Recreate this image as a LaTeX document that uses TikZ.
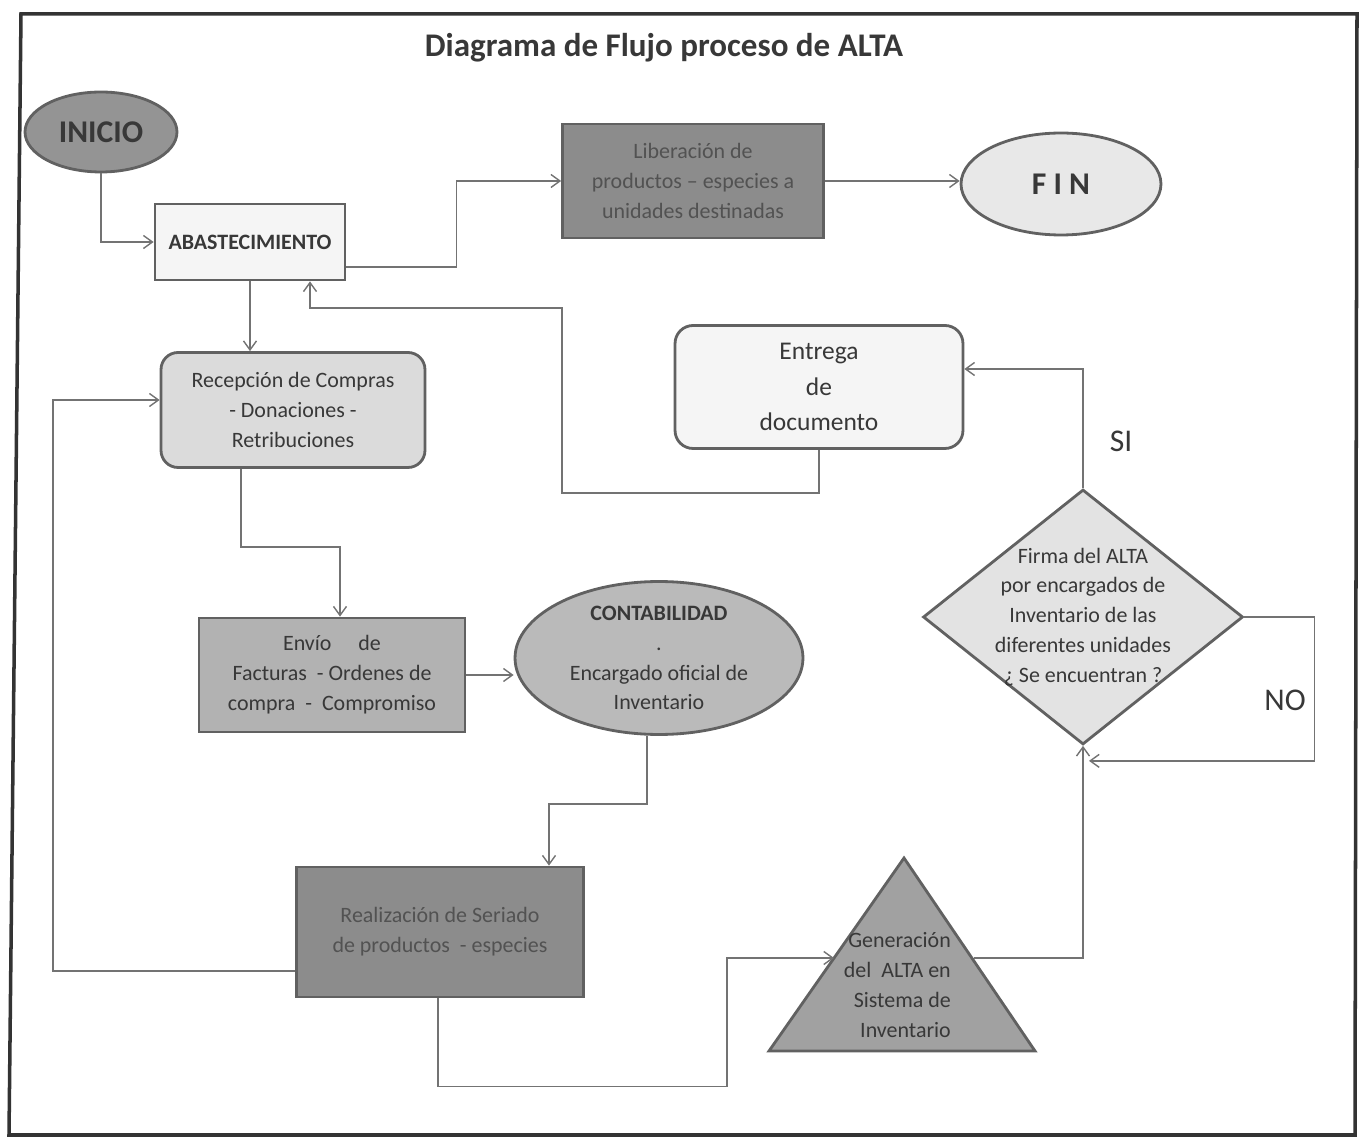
\documentclass[tikz,border=0pt]{standalone}
\usepackage{fontspec}
\setmainfont{Carlito}
\usetikzlibrary{shapes.geometric,arrows.meta,calc}
\newcommand\fnormal{\fontsize{12.5}{17}\selectfont}
\newcommand\fgrande{\fontsize{18}{21}\selectfont}
\newcommand\ftitulo{\fontsize{18.8}{22}\selectfont}
\newcommand\fentrega{\fontsize{14.5}{20}\selectfont}
\begin{document}
\begin{tikzpicture}[x=0.02cm,y=-0.02cm,
		conn/.style={draw=black!55,line width=0.8pt,-{Straight Barb[length=1.8mm,width=2.6mm]}},
		caja/.style={draw=black!62,line width=1.6pt,inner sep=0pt,align=center,font=\fnormal,text=black!78},
		elip/.style={caja,ellipse},
		redonda/.style={caja,rounded corners=0.34cm},
		etiqueta/.style={font=\fgrande,text=black!78}]
		\useasboundingbox (0,0) rectangle (1369,1141);
		\draw[line width=2pt,black!80] (21,14) -- (1357,14) -- (1355,1135) -- (9,1135) -- cycle;
		\node[font=\ftitulo\bfseries,text=black!78] (titulo) at (664,48) {Diagrama de Flujo proceso de ALTA};

		\node[elip,fill=black!42,minimum width=3.04cm,minimum height=1.6cm,font=\fgrande\bfseries] (inicio) at (101,132) {INICIO};
		\node[caja,fill=black!4,minimum width=3.8cm,minimum height=1.52cm,font=\fnormal\bfseries] (abast) at (250,242) {ABASTECIMIENTO};
		\node[caja,fill=black!45,text=black!68,minimum width=5.22cm,minimum height=2.28cm] (liber) at (693,181) {Liberación de\\productos -- especies a\\unidades destinadas};
		\node[elip,fill=black!9,minimum width=4cm,minimum height=2.04cm,font=\fgrande\bfseries] (fin) at (1061,184) {F I N};
		\node[redonda,fill=black!14,minimum width=5.28cm,minimum height=2.3cm] (recep) at (293,410) {Recepción de Compras\\- Donaciones -\\Retribuciones};
		\node[redonda,fill=black!4,minimum width=5.76cm,minimum height=2.46cm,font=\fentrega,rounded corners=0.36cm] (entrega) at (819,387) {Entrega\\de\\documento};
		\node[caja,fill=black!30,minimum width=5.32cm,minimum height=2.28cm] (envio) at (332,675) {Envío\quad\ de\\Facturas\ \ - Ordenes de\\compra\ \ -\ \ Compromiso};
		\node[elip,fill=black!27,minimum width=5.76cm,minimum height=3.06cm] (conta) at (659,658) {\textbf{CONTABILIDAD}\\.\\Encargado oficial de\\Inventario};
		\node[caja,fill=black!45,text=black!68,minimum width=5.74cm,minimum height=2.6cm] (realiz) at (440,932) {Realización de Seriado\\de productos\ \ - especies};
		\node[caja,diamond,fill=black!11,minimum width=6.4cm,minimum height=5.1cm] (firma) at (1083,617) {};
		\node[align=center,font=\fnormal,text=black!78] (firmatxt) at (1083,617) {Firma del ALTA\\por encargados de\\Inventario de las\\diferentes unidades\\¿ Se encuentran ?};
		\filldraw[draw=black!62,fill=black!37,line width=1.6pt] (904,858) -- (1035,1051) -- (769,1051) -- cycle;
		\node[align=right,anchor=east,font=\fnormal,text=black!78] (gen) at (957,985) {Generación\\del\ \ ALTA en\\Sistema de\\Inventario};
		\coordinate (genin) at (834,958);
		\coordinate (genout) at (974,958);

		\draw[conn] (inicio.south) |- (abast.west);
		\draw[conn] ($(abast.east)+(0,25)$) -- ++(110,0) |- (liber.west);
		\draw[conn] (liber.east) -- (liber.east -| fin.west);
		\draw[conn] (abast.south) -- (abast.south |- recep.north);
		\draw[conn] (entrega.south) -- ++(0,43) -| (562,308) -| ($(abast.south)+(60,0)$);
		\draw[conn] ($(recep.south)+(-52,0)$) -- ++(0,78) -| ($(envio.north)+(8,0)$);
		\draw[conn] (envio.east) -- (envio.east -| conta.west);
		\draw[conn] ($(conta.south)+(-12,0)$) -- ++(0,68) -| ($(realiz.north)+(109,0)$);
		\draw[conn] ($(realiz.west)+(0,39)$) -- ++(-242,0) |- ($(recep.west)+(0,-10)$);
		\draw[conn] ($(realiz.south)+(-2,0)$) -- ++(0,88) -| (727,958) -- (genin);
		\draw[conn] (genout) -| (firma.south);
		\draw[conn] (firma.east) -- ++(70,0) |- ($(firma.south)+(6,15)$);
		\draw[conn] (firma.north) |- ($(entrega.east)+(0,-18)$);
		\node[etiqueta] (si) at (1121,441) {SI};
		\node[etiqueta] (no) at (1285,700) {NO};
	\end{tikzpicture}
\end{document}
